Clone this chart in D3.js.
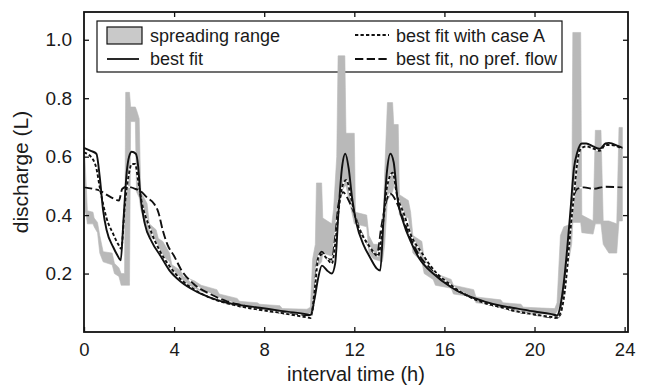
<!DOCTYPE html>
<html>
<head>
<meta charset="utf-8">
<script src="https://cdn.jsdelivr.net/npm/d3@7"></script>
<style>
	body { margin: 0; background: #fff; }
	text { font-family: "Liberation Sans", Arial, sans-serif; fill: #1a1a1a; }
</style>
</head>
<body>
<svg id="chart"></svg>
<script>
// spreading range (grey band)
var bandT  = [0, 0.1, 0.15, 0.4, 0.45, 0.6, 0.7, 0.85, 1.25, 1.35, 1.55, 1.65, 1.8, 1.85, 2.02, 2.07, 2.28, 2.33, 2.45, 2.52, 2.8, 2.9, 3.2, 3.3, 3.5, 3.8, 3.9, 4.3, 4.4, 4.9, 5.2, 5.9, 6.0, 6.8, 6.9, 7.7, 7.8, 8.7, 8.8, 9.9, 10.05, 10.15, 10.27, 10.32, 10.55, 10.6, 11.0, 11.08, 11.22, 11.28, 11.58, 11.63, 12.0, 12.05, 12.55, 12.65, 12.85, 13.25, 13.35, 13.47, 13.7, 13.75, 13.95, 14.0, 14.4, 14.5, 14.6, 15.0, 15.1, 15.5, 15.6, 16.3, 16.4, 17.3, 17.4, 18.5, 18.6, 19.4, 19.5, 20.9, 21.0, 21.15, 21.3, 21.65, 21.7, 22.05, 22.1, 22.6, 22.7, 22.95, 23.05, 23.3, 23.65, 23.75, 23.9];
var bandLo = [0.42, 0.4, 0.37, 0.37, 0.36, 0.34, 0.27, 0.24, 0.23, 0.2, 0.19, 0.16, 0.16, 0.16, 0.16, 0.72, 0.72, 0.48, 0.46, 0.42, 0.34, 0.33, 0.31, 0.29, 0.26, 0.24, 0.2, 0.19, 0.165, 0.15, 0.14, 0.12, 0.11, 0.1, 0.085, 0.08, 0.075, 0.073, 0.065, 0.062, 0.065, 0.08, 0.14, 0.22, 0.24, 0.27, 0.26, 0.3, 0.42, 0.46, 0.5, 0.5, 0.37, 0.37, 0.36, 0.27, 0.25, 0.24, 0.3, 0.45, 0.48, 0.5, 0.47, 0.4, 0.39, 0.34, 0.27, 0.24, 0.2, 0.18, 0.16, 0.15, 0.13, 0.12, 0.1, 0.09, 0.08, 0.075, 0.065, 0.06, 0.07, 0.1, 0.15, 0.3, 0.375, 0.375, 0.34, 0.335, 0.37, 0.37, 0.3, 0.27, 0.27, 0.38, 0.38];
var bandHi = [0.66, 0.5, 0.415, 0.41, 0.39, 0.375, 0.33, 0.275, 0.27, 0.235, 0.22, 0.2, 0.2, 0.82, 0.82, 0.77, 0.77, 0.76, 0.73, 0.48, 0.44, 0.37, 0.35, 0.32, 0.31, 0.27, 0.23, 0.21, 0.19, 0.175, 0.16, 0.145, 0.13, 0.115, 0.105, 0.1, 0.095, 0.09, 0.08, 0.078, 0.085, 0.25, 0.3, 0.51, 0.51, 0.39, 0.37, 0.42, 0.6, 0.945, 0.945, 0.68, 0.68, 0.41, 0.4, 0.33, 0.3, 0.3, 0.55, 0.785, 0.785, 0.71, 0.71, 0.47, 0.45, 0.41, 0.33, 0.31, 0.25, 0.22, 0.2, 0.18, 0.16, 0.145, 0.12, 0.11, 0.1, 0.095, 0.085, 0.08, 0.1, 0.33, 0.36, 0.37, 1.025, 1.025, 0.4, 0.38, 0.69, 0.69, 0.38, 0.38, 0.37, 0.7, 0.7];

// best fit (solid)
var bestT = [0, 0.3, 0.55, 0.7, 0.85, 1.0, 1.3, 1.5, 1.63, 1.75, 1.9, 2.0, 2.12, 2.3, 2.4, 2.5, 2.7, 3.0, 3.4, 3.8, 4.3, 4.9, 5.6, 6.35, 7.1, 7.8, 8.6, 9.3, 9.9, 10.05, 10.25, 10.4, 10.56, 10.8, 11.0, 11.15, 11.3, 11.45, 11.6, 11.75, 11.9, 12.1, 12.4, 12.7, 13.0, 13.15, 13.3, 13.45, 13.6, 13.75, 13.9, 14.2, 14.5, 14.9, 15.5, 16.3, 17.0, 17.75, 18.5, 19.25, 20.0, 20.7, 21.0, 21.15, 21.3, 21.45, 21.6, 21.75, 21.9, 22.1, 22.3, 22.6, 22.9, 23.15, 23.3, 23.7, 23.9];
var bestV = [0.63, 0.62, 0.61, 0.53, 0.415, 0.35, 0.29, 0.26, 0.245, 0.38, 0.55, 0.6, 0.617, 0.61, 0.57, 0.47, 0.37, 0.31, 0.26, 0.21, 0.172, 0.142, 0.118, 0.1, 0.09, 0.083, 0.074, 0.067, 0.06, 0.058, 0.12, 0.186, 0.227, 0.21, 0.2, 0.234, 0.415, 0.56, 0.61, 0.56, 0.46, 0.37, 0.3, 0.255, 0.217, 0.21, 0.39, 0.55, 0.61, 0.58, 0.467, 0.37, 0.31, 0.25, 0.2, 0.153, 0.125, 0.105, 0.09, 0.08, 0.07, 0.062, 0.057, 0.09, 0.17, 0.285, 0.42, 0.56, 0.615, 0.645, 0.645, 0.635, 0.627, 0.645, 0.647, 0.637, 0.63];

// best fit with case A (dotted)
var caseAT = [0, 0.4, 0.55, 0.7, 1.0, 1.3, 1.52, 1.65, 1.82, 1.97, 2.12, 2.27, 2.4, 2.55, 2.9, 3.35, 3.8, 4.3, 4.9, 5.6, 6.4, 7.1, 7.8, 8.6, 9.3, 9.9, 10.05, 10.27, 10.4, 10.56, 10.8, 11.0, 11.15, 11.3, 11.5, 11.65, 11.85, 12.05, 12.4, 12.7, 13.05, 13.3, 13.45, 13.7, 13.9, 14.2, 14.5, 15.0, 15.5, 16.3, 17.0, 17.75, 18.5, 19.25, 20.0, 20.7, 21.0, 21.15, 21.3, 21.45, 21.6, 21.75, 21.9, 22.05, 22.3, 22.6, 22.9, 23.15, 23.4, 23.9];
var caseAV = [0.615, 0.59, 0.56, 0.495, 0.39, 0.335, 0.3, 0.285, 0.44, 0.53, 0.575, 0.575, 0.52, 0.45, 0.36, 0.28, 0.225, 0.18, 0.145, 0.117, 0.097, 0.085, 0.076, 0.067, 0.058, 0.05, 0.048, 0.165, 0.255, 0.265, 0.25, 0.234, 0.3, 0.415, 0.506, 0.52, 0.46, 0.39, 0.325, 0.29, 0.26, 0.39, 0.495, 0.545, 0.467, 0.405, 0.335, 0.27, 0.215, 0.16, 0.125, 0.1, 0.085, 0.07, 0.06, 0.052, 0.05, 0.065, 0.115, 0.217, 0.353, 0.467, 0.58, 0.627, 0.635, 0.628, 0.62, 0.64, 0.64, 0.627];

// best fit, no pref. flow (dashed)
var noPrefT = [0, 0.4, 0.7, 1.0, 1.3, 1.55, 1.7, 1.9, 2.27, 2.57, 2.8, 3.1, 3.3, 3.5, 3.7, 4.0, 4.3, 4.86, 5.6, 6.35, 7.1, 7.8, 8.6, 9.3, 9.9, 10.05, 10.2, 10.34, 10.56, 10.8, 11.0, 11.15, 11.3, 11.5, 11.75, 12.0, 12.25, 12.6, 13.0, 13.2, 13.45, 13.6, 13.9, 14.2, 14.5, 14.9, 15.5, 16.3, 17.0, 17.75, 18.5, 19.25, 20.0, 20.7, 20.95, 21.15, 21.3, 21.45, 21.6, 21.75, 21.9, 22.2, 22.6, 23.15, 23.9];
var noPrefV = [0.495, 0.49, 0.484, 0.47, 0.457, 0.45, 0.49, 0.497, 0.49, 0.478, 0.46, 0.44, 0.41, 0.347, 0.3, 0.26, 0.215, 0.165, 0.13, 0.105, 0.09, 0.077, 0.067, 0.06, 0.057, 0.057, 0.1, 0.234, 0.275, 0.25, 0.248, 0.325, 0.44, 0.478, 0.45, 0.405, 0.35, 0.3, 0.265, 0.36, 0.455, 0.473, 0.44, 0.38, 0.32, 0.26, 0.21, 0.155, 0.125, 0.1, 0.085, 0.07, 0.06, 0.05, 0.048, 0.06, 0.135, 0.238, 0.364, 0.467, 0.49, 0.495, 0.49, 0.497, 0.495];

var xTicks = [0, 4, 8, 12, 16, 20, 24];
var yTicks = [0.2, 0.4, 0.6, 0.8, 1.0];
var legendLeft = ['spreading range', 'best fit'];
var legendRight = ['best fit with case A', 'best fit, no pref. flow'];

function makeChart() {
	let w = 649;
	let h = 385;
	let m = {left: 84, right: 21, top: 12, bottom: 53};

	let chart = d3.select('#chart')
		.attr('width', w)
		.attr('height', h);

	let x = d3.scaleLinear().domain([0, 24.15]).range([m.left, w - m.right]);
	let y = d3.scaleLinear().domain([0, 1.095]).range([h - m.bottom, m.top]);

	// legend box first, the data is drawn over it
	let lg = chart.append('g');
	lg.append('rect')
		.attr('x', 97).attr('y', 21)
		.attr('width', 465).attr('height', 51)
		.style('fill', '#fff')
		.style('stroke', '#111')
		.style('stroke-width', 1.2);
	lg.append('rect')
		.attr('x', 107).attr('y', 27)
		.attr('width', 35).attr('height', 17)
		.style('fill', '#c9c9c9')
		.style('stroke', '#111')
		.style('stroke-width', 1.2);
	lg.append('line')
		.attr('x1', 107).attr('x2', 139).attr('y1', 59).attr('y2', 59)
		.style('stroke', '#111').style('stroke-width', 1.8);
	lg.append('line')
		.attr('x1', 355).attr('x2', 389).attr('y1', 35).attr('y2', 35)
		.style('stroke', '#111').style('stroke-width', 1.8)
		.style('stroke-dasharray', '3.3,2.2');
	lg.append('line')
		.attr('x1', 355).attr('x2', 389).attr('y1', 59).attr('y2', 59)
		.style('stroke', '#111').style('stroke-width', 1.8)
		.style('stroke-dasharray', '8.3,3.4');
	lg.selectAll('.ll')
		.data(legendLeft)
		.enter()
		.append('text')
		.attr('x', 150)
		.attr('y', (d, i) => 41.5 + i * 23)
		.style('font-size', '18px')
		.text(d => d);
	lg.selectAll('.lr')
		.data(legendRight)
		.enter()
		.append('text')
		.attr('x', 396)
		.attr('y', (d, i) => 41.5 + i * 23)
		.style('font-size', '18px')
		.text(d => d);

	// grey band
	let band = bandT.map((t, i) => ({t: t, lo: bandLo[i], hi: bandHi[i]}));
	chart.append('path')
		.datum(band)
		.attr('d', d3.area()
			.x(d => x(d.t))
			.y0(d => y(d.lo))
			.y1(d => y(d.hi)))
		.style('fill', '#b9b9b9')
		.style('stroke', '#b9b9b9')
		.style('stroke-width', 0.6);

	let line = d3.line()
		.x(d => x(d.t))
		.y(d => y(d.v))
		.curve(d3.curveMonotoneX);

	let series = [
		{t: noPrefT, v: noPrefV, dash: '8.3,3.4'},
		{t: caseAT, v: caseAV, dash: '3.3,2.2'},
		{t: bestT, v: bestV, dash: null}
	];

	series.forEach(s => {
		let pts = s.t.map((t, i) => ({t: t, v: s.v[i]}));
		if (s.dash) {
			// white underlay so the gaps read white over the band
			chart.append('path')
				.datum(pts)
				.attr('d', line)
				.style('fill', 'none')
				.style('stroke', '#fff')
				.style('stroke-width', 1.6);
		}
		chart.append('path')
			.datum(pts)
			.attr('d', line)
			.style('fill', 'none')
			.style('stroke', '#111')
			.style('stroke-width', 1.9)
			.style('stroke-dasharray', s.dash);
	});

	// frame and inward ticks
	chart.append('rect')
		.attr('x', m.left).attr('y', m.top)
		.attr('width', w - m.left - m.right)
		.attr('height', h - m.top - m.bottom)
		.style('fill', 'none')
		.style('stroke', '#111')
		.style('stroke-width', 1.8);

	chart.append('g')
		.attr('transform', 'translate(0,' + (h - m.bottom) + ')')
		.call(d3.axisBottom(x).tickValues(xTicks).tickSizeInner(-5).tickSizeOuter(0).tickPadding(11))
		.call(g => g.select('.domain').remove())
		.call(g => g.selectAll('text').style('font-size', '18.5px'));

	chart.append('g')
		.attr('transform', 'translate(0,' + m.top + ')')
		.call(d3.axisTop(x).tickValues(xTicks.slice(1, -1)).tickSizeInner(-5).tickSizeOuter(0).tickFormat(''))
		.call(g => g.select('.domain').remove());

	chart.append('g')
		.attr('transform', 'translate(' + m.left + ',0)')
		.call(d3.axisLeft(y).tickValues(yTicks).tickSizeInner(-5).tickSizeOuter(0).tickPadding(12).tickFormat(d3.format('.1f')))
		.call(g => g.select('.domain').remove())
		.call(g => g.selectAll('text').style('font-size', '19px'));

	chart.append('g')
		.attr('transform', 'translate(' + (w - m.right) + ',0)')
		.call(d3.axisRight(y).tickValues(yTicks).tickSizeInner(-5).tickSizeOuter(0).tickFormat(''))
		.call(g => g.select('.domain').remove());

	chart.selectAll('.tick line').style('stroke', '#111').style('stroke-width', 1.3);
	chart.selectAll('.tick text').style('fill', '#1a1a1a').style('font-family', '"Liberation Sans", Arial, sans-serif');

	chart.append('text')
		.attr('x', (m.left + w - m.right) / 2)
		.attr('y', 380.5)
		.style('text-anchor', 'middle')
		.style('font-size', '20px')
		.text('interval time (h)');

	chart.append('text')
		.attr('transform', 'translate(28,' + ((m.top + h - m.bottom) / 2) + ') rotate(-90)')
		.style('text-anchor', 'middle')
		.style('font-size', '21px')
		.text('discharge (L)');
}

window.onload = function () {
	makeChart();
}
</script>
</body>
</html>
